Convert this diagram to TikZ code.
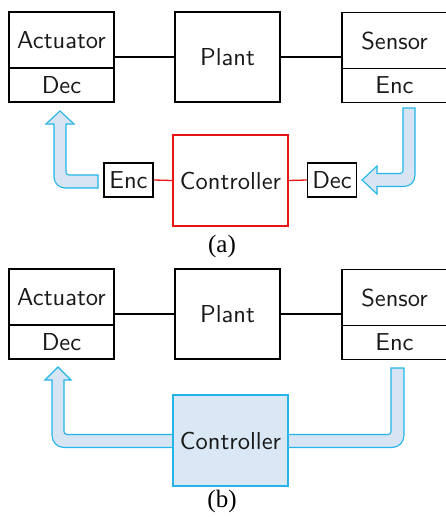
\documentclass[tikz,border=0pt]{standalone}
\usepackage{fontspec}
\setsansfont{lmsans10-regular}[Extension=.otf]
\newfontfamily\capfont{Liberation Serif}
\definecolor{arrline}{RGB}{35,180,232}
\definecolor{arrfill}{RGB}{214,228,243}
\definecolor{ctrlfill}{RGB}{218,232,246}
\definecolor{ctrlred}{RGB}{235,20,20}
\tikzset{
  blk/.style={draw=black, line width=1.5pt, inner sep=0pt, font=\sffamily\fontsize{24.5}{29}\selectfont, text=black!90},
  topbox/.style={blk, minimum width=105pt, minimum height=56pt},
  botbox/.style={blk, minimum width=105pt, minimum height=34pt},
  plantbox/.style={blk, minimum width=105pt, minimum height=90pt},
  smallbox/.style={blk, minimum width=49pt, minimum height=34pt},
  ctrlbox/.style={blk, minimum width=115pt, minimum height=91pt},
  link/.style={draw=black, line width=1.3pt},
  redlink/.style={draw=ctrlred, line width=1.3pt},
  fatarrow/.style={draw=arrline, fill=arrfill, line width=1.1pt, line join=miter},
  captext/.style={font=\capfont\fontsize{25}{29}\selectfont}
}
\begin{document}
\begin{tikzpicture}[x=1pt,y=-1pt]
\useasboundingbox (0,0) rectangle (446,517);

% ---------------- (a) ----------------
\node[topbox] (actTa) at (61.5,40) {Actuator};
\node[botbox] (actBa) at (61.5,85) {Dec};
\node[plantbox] (planta) at (227.5,57) {Plant};
\node[topbox] (senTa) at (394.5,40.5) {Sensor};
\node[botbox] (senBa) at (394.5,85.5) {Enc};
\node[ctrlbox, draw=ctrlred] (ctrla) at (230.5,180.5) {Controller};
\node[smallbox] (enca) at (128.5,180) {Enc};
\node[smallbox] (deca) at (332,180) {Dec};

\draw[link] (planta.west) -- (planta.west -| actTa.east);
\draw[link] (planta.east) -- (planta.east -| senTa.west);
\draw[redlink] (enca.east) -- (ctrla.west);
\draw[redlink] (ctrla.east) -- (deca.west);

% left fat arrow (a)
\draw[fatarrow] (98,175) -- (69,175) .. controls (67.3,175) and (66,173.7) .. (66,172)
  -- (66,124) -- (74,124) -- (60,111) -- (46,124) -- (54,124) -- (54,177)
  .. controls (54,183) and (59,188) .. (65,188) -- (98,188) -- cycle;
% right fat arrow (a)
\draw[fatarrow] (403,108) -- (415,108) -- (415,175)
  .. controls (415,181.5) and (410.5,186.5) .. (404,186.5) -- (377,186.5) -- (377,194)
  -- (362,180) -- (377,166) -- (377,173.5) -- (400,173.5)
  .. controls (401.7,173.5) and (403,172.2) .. (403,170.5) -- cycle;

\node[captext] (capa) at (222,246) {(a)};

% ---------------- (b) ----------------
\node[topbox] (actTb) at (61.5,297) {Actuator};
\node[botbox] (actBb) at (61.5,342) {Dec};
\node[plantbox] (plantb) at (227.5,314) {Plant};
\node[topbox] (senTb) at (394.5,297.5) {Sensor};
\node[botbox] (senBb) at (394.5,342.5) {Enc};

\draw[link] (plantb.west) -- (plantb.west -| actTb.east);
\draw[link] (plantb.east) -- (plantb.east -| senTb.west);

% left fat arrow (b)
\draw[fatarrow] (180,434.5) -- (67,434.5) .. controls (65.3,434.5) and (64,433.2) .. (64,431.5)
  -- (64,380) -- (71,380) -- (58,367) -- (45,380) -- (52,380) -- (52,435)
  .. controls (52,442) and (57,447.5) .. (64,447.5) -- (180,447.5) -- cycle;
% right fat path (b)
\draw[fatarrow] (280,434.5) -- (388,434.5) .. controls (389.7,434.5) and (391,433.2) .. (391,431.5)
  -- (391,368) -- (404,368) -- (404,435)
  .. controls (404,442) and (399,447.5) .. (392,447.5) -- (280,447.5) -- cycle;

\node[ctrlbox, draw=arrline, fill=ctrlfill] (ctrlb) at (230.5,440.5) {Controller};

\node[captext] (capb) at (222,501) {(b)};
\end{tikzpicture}
\end{document}
